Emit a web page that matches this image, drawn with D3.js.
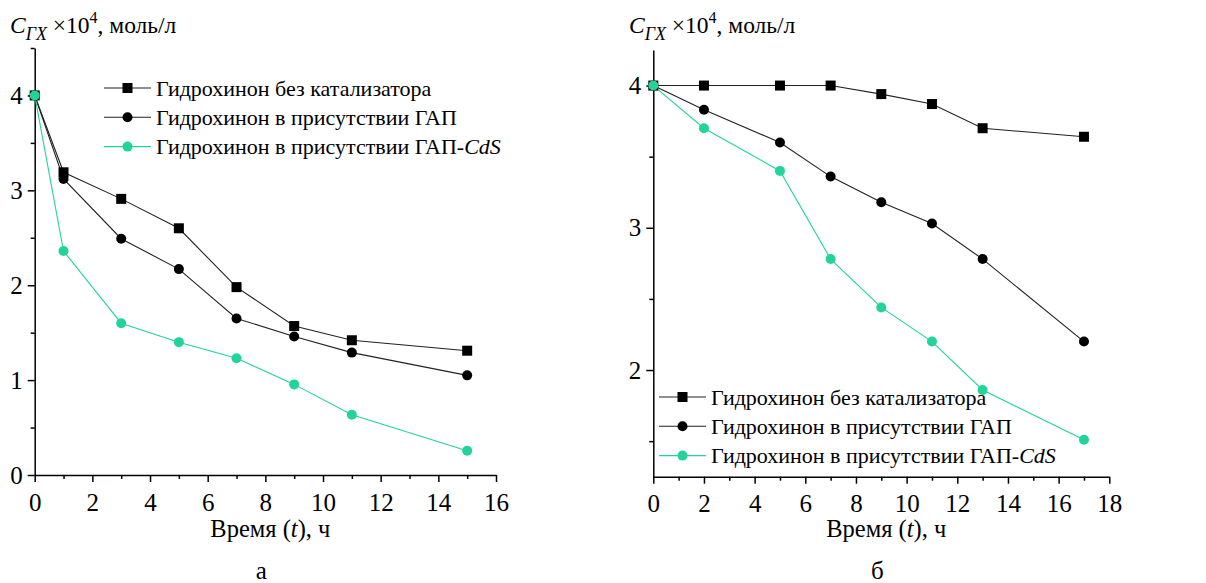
<!DOCTYPE html>
<html>
<head>
<meta charset="utf-8">
<script src="https://cdn.jsdelivr.net/npm/d3@7"></script>
<style>
  body { margin: 0; background: #fff; }
  text { font-family: "Liberation Serif", "Times New Roman", serif; fill: #000; }
</style>
</head>
<body>
<script>
// series names (legend)
var seriesNames = ["Гидрохинон без катализатора", "Гидрохинон в присутствии ГАП", "Гидрохинон в присутствии ГАП-"];

// panel а
var timeA = [0, 1, 3, 5, 7, 9, 11, 15];
var noCatA = [4.0, 3.19, 2.91, 2.60, 1.98, 1.57, 1.42, 1.31];
var gapA = [4.0, 3.12, 2.49, 2.17, 1.65, 1.46, 1.29, 1.05];
var gapCdsA = [4.0, 2.36, 1.60, 1.40, 1.23, 0.955, 0.635, 0.256];
var xTicksA = [0, 2, 4, 6, 8, 10, 12, 14, 16];
var yTicksA = [0, 1, 2, 3, 4];

// panel б
var timeB = [0, 2, 5, 7, 9, 11, 13, 17];
var noCatB = [4.0, 4.0, 4.0, 4.0, 3.94, 3.87, 3.70, 3.64];
var gapB = [4.0, 3.83, 3.60, 3.36, 3.18, 3.03, 2.78, 2.20];
var gapCdsB = [4.0, 3.70, 3.40, 2.78, 2.44, 2.20, 1.86, 1.51];
var xTicksB = [0, 2, 4, 6, 8, 10, 12, 14, 16, 18];
var yTicksB = [2, 3, 4];

var green = "#22d49a";

function main(){
    var svg = d3.select("body").append("svg")
        .attr("width", 1206)
        .attr("height", 583);

    drawPanel(svg, {
        left: 34.7, right: 496, top: 48, bottom: 475,
        xDomain: [0, 16], yDomain: [0, 4.5],
        xTicks: xTicksA, yTicks: yTicksA, xMinor: 1, yMinor: 0.5,
        time: timeA, series: [noCatA, gapA, gapCdsA],
        legendX: 104, legendY: 88, label: "а", titleX: 10
    });

    drawPanel(svg, {
        left: 653.3, right: 1109.3, top: 50, bottom: 476.7,
        xDomain: [0, 18], yDomain: [1.25, 4.25],
        xTicks: xTicksB, yTicks: yTicksB, xMinor: 1, yMinor: 0.5,
        time: timeB, series: [noCatB, gapB, gapCdsB],
        legendX: 659, legendY: 397, label: "б", titleX: 629
    });
}

function drawPanel(svg, p){
    var x = d3.scaleLinear().domain(p.xDomain).range([p.left, p.right]);
    var y = d3.scaleLinear().domain(p.yDomain).range([p.bottom, p.top]);

    var g = svg.append("g");

    // minor ticks
    var xMinorVals = d3.range(p.xDomain[0], p.xDomain[1] + 0.001, p.xMinor)
        .filter(function(v){ return p.xTicks.indexOf(v) < 0; });
    var yMinorVals = d3.range(Math.ceil(p.yDomain[0] / p.yMinor) * p.yMinor, p.yDomain[1] + 0.001, p.yMinor)
        .filter(function(v){ return p.yTicks.indexOf(v) < 0; });

    g.append("g")
        .attr("transform", "translate(0," + p.bottom + ")")
        .call(d3.axisBottom(x).tickValues(xMinorVals).tickSize(4).tickFormat(""))
        .call(function(a){ a.select(".domain").remove(); });
    g.append("g")
        .attr("transform", "translate(" + p.left + ",0)")
        .call(d3.axisLeft(y).tickValues(yMinorVals).tickSize(4).tickFormat(""))
        .call(function(a){ a.select(".domain").remove(); });

    // major axes
    var xAxis = g.append("g")
        .attr("transform", "translate(0," + p.bottom + ")")
        .call(d3.axisBottom(x).tickValues(p.xTicks).tickFormat(d3.format("d"))
            .tickSize(7).tickSizeOuter(0).tickPadding(11));
    xAxis.selectAll("text").attr("font-size", "25px");

    var yAxis = g.append("g")
        .attr("transform", "translate(" + p.left + ",0)")
        .call(d3.axisLeft(y).tickValues(p.yTicks).tickFormat(d3.format("d"))
            .tickSize(7).tickSizeOuter(0).tickPadding(5));
    yAxis.selectAll("text").attr("font-size", "25px");

    g.selectAll(".domain, .tick line").attr("stroke", "#000").attr("stroke-width", 1.5);

    // lines
    var colors = ["#000", "#000", green];
    var line = d3.line()
        .x(function(d, i){ return x(p.time[i]); })
        .y(function(d){ return y(d); });

    p.series.forEach(function(s, k){
        g.append("path")
            .datum(s)
            .attr("fill", "none")
            .attr("stroke", k < 2 ? "#222" : colors[k])
            .attr("stroke-width", 1.1)
            .attr("d", line);
    });

    // markers (drawn last so green stays on top at t=0)
    p.series.forEach(function(s, k){
        if (k === 0) {
            g.selectAll(null).data(s).enter().append("rect")
                .attr("x", function(d, i){ return x(p.time[i]) - 5; })
                .attr("y", function(d){ return y(d) - 5; })
                .attr("width", 10).attr("height", 10)
                .attr("fill", "#000");
        } else {
            g.selectAll(null).data(s).enter().append("circle")
                .attr("cx", function(d, i){ return x(p.time[i]); })
                .attr("cy", function(d){ return y(d); })
                .attr("r", 5)
                .attr("fill", colors[k]);
        }
    });

    // legend
    seriesNames.forEach(function(name, k){
        var ly = p.legendY + k * 29.3;
        var lg = g.append("g");
        lg.append("line")
            .attr("x1", p.legendX).attr("x2", p.legendX + 47)
            .attr("y1", ly).attr("y2", ly)
            .attr("stroke", k < 2 ? "#222" : green).attr("stroke-width", 1.1);
        if (k === 0) {
            lg.append("rect").attr("x", p.legendX + 23.5 - 5).attr("y", ly - 5)
                .attr("width", 10).attr("height", 10).attr("fill", "#000");
        } else {
            lg.append("circle").attr("cx", p.legendX + 23.5).attr("cy", ly)
                .attr("r", 5).attr("fill", colors[k]);
        }
        var t = lg.append("text")
            .attr("x", p.legendX + 52).attr("y", ly + 7.5)
            .attr("font-size", "22px")
            .text(name);
        if (k === 2) {
            t.append("tspan").attr("font-style", "italic").text("CdS");
        }
    });

    // y title
    var yt = g.append("text")
        .attr("x", p.titleX).attr("y", 33)
        .attr("font-size", "23.5px");
    yt.append("tspan").attr("font-style", "italic").text("C");
    yt.append("tspan").attr("font-style", "italic").attr("font-size", "18px").attr("dy", 7).text("ГХ");
    yt.append("tspan").attr("dy", -7).text(" ×10");
    yt.append("tspan").attr("font-size", "16px").attr("dy", -10).text("4");
    yt.append("tspan").attr("dy", 10).text(", моль/л");

    // x title
    var xt = g.append("text")
        .attr("x", (p.left + p.right) / 2 + 5).attr("y", 537)
        .attr("text-anchor", "middle")
        .attr("font-size", "24.5px");
    xt.append("tspan").text("Время (");
    xt.append("tspan").attr("font-style", "italic").text("t");
    xt.append("tspan").text("), ч");

    // panel label
    g.append("text")
        .attr("x", (p.left + p.right) / 2 - 4).attr("y", 579)
        .attr("text-anchor", "middle")
        .attr("font-size", "25px")
        .text(p.label);
}

main();
</script>
</body>
</html>
